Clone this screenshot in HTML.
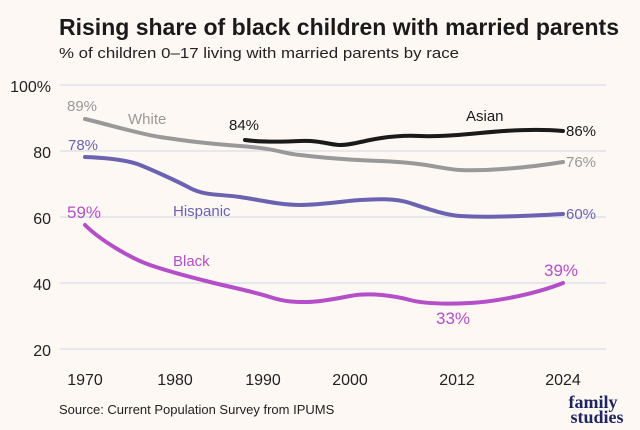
<!DOCTYPE html><html><head><style>body{margin:0;background:#fdf8f4}svg{display:block}text{font-family:"Liberation Sans",sans-serif}text.serif{font-family:"Liberation Serif",serif}</style></head><body>
<svg width="640" height="430" viewBox="0 0 640 430">
<rect width="640" height="430" fill="#fdf8f4"/>
<text x="59" y="35" font-size="23" font-weight="bold" fill="#1a1a1a" textLength="560" lengthAdjust="spacingAndGlyphs">Rising share of black children with married parents</text>
<text x="59" y="58" font-size="15" fill="#222" textLength="400" lengthAdjust="spacingAndGlyphs">% of children 0–17 living with married parents by race</text>
<g stroke="#dfe3ea" stroke-width="1.5">
<line x1="60" x2="606" y1="85" y2="85"/><line x1="60" x2="606" y1="151" y2="151"/><line x1="60" x2="606" y1="217" y2="217"/><line x1="60" x2="606" y1="283" y2="283"/><line x1="60" x2="606" y1="349" y2="349"/></g>
<g font-size="16" fill="#222" text-anchor="end"><text x="51" y="92">100%</text><text x="51" y="158">80</text><text x="51" y="224">60</text><text x="51" y="290">40</text><text x="51" y="356">20</text></g>
<g font-size="16" fill="#222" text-anchor="middle"><text x="85" y="385">1970</text><text x="175" y="385">1980</text><text x="263" y="385">1990</text><text x="350" y="385">2000</text><text x="457" y="385">2012</text><text x="563" y="385">2024</text></g>
<text x="59" y="414" font-size="13" fill="#222">Source: Current Population Survey from IPUMS</text>
<g font-weight="bold" fill="#1e2560" font-size="18" text-anchor="middle"><text class="serif" x="593" y="408">family</text><text class="serif" x="597" y="423">studies</text></g>
<g fill="none" stroke-width="4" stroke-linecap="round" stroke-linejoin="round">
<path stroke="#999" d="M85,119 C110,125 140,134 160,137 S200,143 240,146 S280,153 300,155 S330,159 380,161 S440,169 460,170 S520,169 563,162"/>
<path stroke="#6b63b0" d="M85,157 C110,158 130,161 140,165 S175,180 190,188 S220,194 240,197 S280,205 300,205 S345,201 360,200 S395,198 410,203 S445,215 460,216 S510,217 563,214"/>
<path stroke="#b44fc8" d="M85,225 C100,240 130,258 150,265 S190,277 210,282 S255,292 270,297 S295,302 306,302 S330,300 350,296 S395,296 410,300 S450,304 470,303 S530,296 563,283"/>
<path stroke="#1a1a1a" d="M245,140 C260,142 280,142 300,141 S330,145 340,145 S360,142 370,140 S400,135 420,136 S470,134 480,133 S530,128 563,131"/>
</g>
<g font-size="15">
<text x="67" y="111" fill="#999">89%</text><text x="128" y="124" fill="#999">White</text>
<text x="68" y="150" fill="#6b63b0">78%</text><text x="173" y="216" fill="#6b63b0">Hispanic</text>
<text x="67" y="218" fill="#b44fc8" font-size="17">59%</text><text x="173" y="266" fill="#b44fc8">Black</text>
<text x="229" y="130" fill="#1a1a1a">84%</text><text x="466" y="121" fill="#1a1a1a">Asian</text>
<text x="566" y="136" fill="#1a1a1a">86%</text><text x="566" y="167" fill="#999">76%</text><text x="566" y="219" fill="#6b63b0">60%</text>
<text x="544" y="276" fill="#b44fc8" font-size="17">39%</text><text x="436" y="324" fill="#b44fc8" font-size="17">33%</text>
</g>
</svg></body></html>
